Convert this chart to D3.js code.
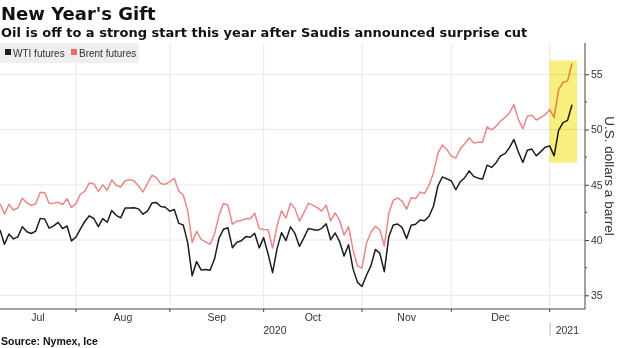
<!DOCTYPE html>
<html>
<head>
<meta charset="utf-8">
<script src="https://cdn.jsdelivr.net/npm/d3@7/dist/d3.min.js"></script>
<style>
  html, body { margin: 0; padding: 0; background: #fff; }
  svg { display: block; }
</style>
</head>
<body>
<div id="chart"></div>
<script>
// ---- DATA ----
const dates = [
  "2020-07-08","2020-07-09","2020-07-10","2020-07-13","2020-07-14","2020-07-15","2020-07-16","2020-07-17","2020-07-20","2020-07-21","2020-07-22","2020-07-23","2020-07-24","2020-07-27","2020-07-28","2020-07-29","2020-07-30","2020-07-31",
  "2020-08-03","2020-08-04","2020-08-05","2020-08-06","2020-08-07","2020-08-10","2020-08-11","2020-08-12","2020-08-13","2020-08-14","2020-08-17","2020-08-18","2020-08-19","2020-08-20","2020-08-21","2020-08-24","2020-08-25","2020-08-26","2020-08-27","2020-08-28","2020-08-31",
  "2020-09-01","2020-09-02","2020-09-03","2020-09-04","2020-09-08","2020-09-09","2020-09-10","2020-09-11","2020-09-14","2020-09-15","2020-09-16","2020-09-17","2020-09-18","2020-09-21","2020-09-22","2020-09-23","2020-09-24","2020-09-25","2020-09-28","2020-09-29","2020-09-30",
  "2020-10-01","2020-10-02","2020-10-05","2020-10-06","2020-10-07","2020-10-08","2020-10-09","2020-10-12","2020-10-13","2020-10-14","2020-10-15","2020-10-16","2020-10-19","2020-10-20","2020-10-21","2020-10-22","2020-10-23","2020-10-26","2020-10-27","2020-10-28","2020-10-29","2020-10-30",
  "2020-11-02","2020-11-03","2020-11-04","2020-11-05","2020-11-06","2020-11-09","2020-11-10","2020-11-11","2020-11-12","2020-11-13","2020-11-16","2020-11-17","2020-11-18","2020-11-19","2020-11-20","2020-11-23","2020-11-24","2020-11-25","2020-11-27","2020-11-30",
  "2020-12-01","2020-12-02","2020-12-03","2020-12-04","2020-12-07","2020-12-08","2020-12-09","2020-12-10","2020-12-11","2020-12-14","2020-12-15","2020-12-16","2020-12-17","2020-12-18","2020-12-21","2020-12-22","2020-12-23","2020-12-24","2020-12-28","2020-12-29","2020-12-30","2020-12-31",
  "2021-01-04","2021-01-05","2021-01-06","2021-01-07","2021-01-08"
];
const wti = [
  40.90,39.62,40.55,40.10,40.29,41.20,40.75,40.59,40.81,41.96,41.90,41.07,41.29,41.60,41.04,41.27,39.92,40.27,
  41.01,41.70,42.19,41.95,41.22,41.94,41.61,42.67,42.24,42.01,42.89,42.89,42.93,42.82,42.34,42.62,43.35,43.39,43.04,42.97,42.61,
  42.76,41.51,41.37,39.77,36.76,38.05,37.30,37.33,37.26,38.28,40.16,40.97,41.11,39.31,39.80,39.93,40.31,40.25,40.60,39.29,40.22,
  38.72,37.05,39.22,40.67,39.95,41.19,40.60,39.43,40.20,41.04,40.96,40.88,41.06,41.46,40.03,40.64,39.85,38.56,39.57,37.39,36.17,35.79,
  36.81,37.66,39.15,38.79,37.14,40.29,41.36,41.45,41.12,40.13,41.34,41.43,41.82,41.74,42.15,43.06,44.91,45.71,45.53,45.34,
  44.55,45.28,45.64,46.26,45.76,45.60,45.52,46.78,46.57,46.99,47.62,47.82,48.36,49.10,47.97,47.02,48.12,48.23,47.62,48.00,48.40,48.52,
  47.62,49.93,50.63,50.83,52.24
];
const brent = [
  43.29,42.35,43.24,42.72,42.90,43.79,43.37,43.14,43.28,44.32,44.29,43.31,43.34,43.41,43.22,43.75,42.94,43.30,
  44.15,44.43,45.17,45.09,44.40,44.99,44.50,45.43,44.96,44.80,45.37,45.46,45.37,44.90,44.35,45.13,45.86,45.64,45.09,45.05,45.28,
  45.58,44.43,44.07,42.66,39.78,40.79,40.06,39.83,39.61,40.53,42.22,43.30,43.15,41.44,41.72,41.77,41.94,41.92,42.43,41.03,40.95,
  40.93,39.27,41.29,42.65,41.99,43.34,42.85,41.72,42.45,43.32,43.16,42.93,42.62,43.16,41.73,42.46,41.77,40.46,41.20,39.12,37.65,37.46,
  39.71,40.71,41.23,40.93,39.45,42.40,43.61,43.80,43.53,42.78,43.82,43.75,44.34,44.20,44.96,46.06,47.86,48.61,48.18,47.59,
  47.42,48.25,48.71,49.25,48.79,48.84,48.86,50.25,49.97,50.29,50.76,51.08,51.50,52.26,50.91,50.08,51.20,51.29,50.86,51.09,51.34,51.80,
  51.09,53.60,54.30,54.38,55.99
];
const seriesNames = ["WTI futures", "Brent futures"];
const yTicks = [35, 40, 45, 50, 55];
const yMinorTicks = [37.5, 42.5, 47.5, 52.5];
const monthLabels = ["Jul", "Aug", "Sep", "Oct", "Nov", "Dec"];
const yearLabels = ["2020", "2021"];
const highlightStart = "2020-12-31";
const highlightRange = [47.0, 56.25];

// ---- LAYOUT ----
const W = 620, H = 348;
const plotL = 0, plotR = 585, plotT = 43, plotB = 309;
const colWTI = "#1c1c1c", colBrent = "#ea8787", colBrentKey = "#f06a6a";

const svg = d3.select("#chart").append("svg").attr("width", W).attr("height", H);

const x = d3.scaleLinear().domain([0, dates.length - 1]).range([0, 572]);
const y = d3.scaleLinear().domain([33.76, 57.83]).range([plotB, plotT]);

// month boundaries: last trading day of each month
const boundaries = [];
for (let i = 0; i < dates.length - 1; i++) {
  if (dates[i].slice(0, 7) !== dates[i + 1].slice(0, 7)) boundaries.push(i);
}
const bx = boundaries.map(i => x(i));

// gridlines
const grid = svg.append("g");
grid.selectAll("line.h").data(yTicks).join("line")
  .attr("x1", plotL).attr("x2", plotR)
  .attr("y1", d => y(d)).attr("y2", d => y(d))
  .attr("stroke", "#e9e9e9").attr("stroke-width", 1);
grid.selectAll("line.v").data(bx).join("line")
  .attr("x1", d => d).attr("x2", d => d)
  .attr("y1", plotT).attr("y2", plotB)
  .attr("stroke", "#e9e9e9").attr("stroke-width", 1);

// lines
const lineGen = vals => d3.line().x((d, i) => x(i)).y(d => y(d))(vals);
svg.append("path").attr("d", lineGen(brent)).attr("fill", "none")
  .attr("stroke", colBrent).attr("stroke-width", 1.5).attr("stroke-linejoin", "round");
svg.append("path").attr("d", lineGen(wti)).attr("fill", "none")
  .attr("stroke", colWTI).attr("stroke-width", 1.5).attr("stroke-linejoin", "round");

// highlight box
const hi = dates.indexOf(highlightStart);
svg.append("rect")
  .attr("x", x(hi)).attr("width", x(dates.length - 1) + 5 - x(hi))
  .attr("y", y(highlightRange[1])).attr("height", y(highlightRange[0]) - y(highlightRange[1]))
  .attr("fill", "#f9ef7e")
  .style("mix-blend-mode", "multiply");

// right y axis
const yAxis = svg.append("g").attr("transform", `translate(${plotR},0)`)
  .call(d3.axisRight(y).tickValues(yTicks).tickSize(4).tickPadding(2).tickFormat(d3.format("d")));
yAxis.select(".domain").remove();
yAxis.selectAll(".tick line").attr("stroke", "#444");
yAxis.selectAll(".tick text").attr("fill", "#333").style("font", "10.5px 'Liberation Sans', Arial, sans-serif");
svg.append("g").selectAll("line").data(yMinorTicks).join("line")
  .attr("x1", plotR).attr("x2", plotR + 2).attr("y1", d => y(d)).attr("y2", d => y(d))
  .attr("stroke", "#444");
svg.append("line").attr("x1", plotR).attr("x2", plotR).attr("y1", plotT).attr("y2", plotB)
  .attr("stroke", "#444").attr("stroke-width", 1);

svg.append("text")
  .attr("transform", `translate(605, ${(plotT + plotB) / 2}) rotate(90)`)
  .attr("text-anchor", "middle")
  .attr("fill", "#333")
  .style("font", "13.5px 'Liberation Sans', Arial, sans-serif")
  .text("U.S. dollars a barrel");

// bottom axis
svg.append("line").attr("x1", plotL).attr("x2", plotR).attr("y1", plotB).attr("y2", plotB)
  .attr("stroke", "#444");
svg.append("g").selectAll("line").data(bx).join("line")
  .attr("x1", d => d).attr("x2", d => d).attr("y1", plotB).attr("y2", plotB + 3)
  .attr("stroke", "#444");

const edges = [plotL].concat(bx);
svg.append("g").selectAll("text").data(monthLabels).join("text")
  .attr("x", (d, i) => (edges[i] + edges[i + 1]) / 2)
  .attr("y", 321)
  .attr("text-anchor", "middle").attr("fill", "#333")
  .style("font", "10.5px 'Liberation Sans', Arial, sans-serif")
  .text(d => d);

const yearEdges = [plotL, bx[bx.length - 1], plotR];
svg.append("g").selectAll("text").data(yearLabels).join("text")
  .attr("x", (d, i) => (yearEdges[i] + yearEdges[i + 1]) / 2)
  .attr("y", 334)
  .attr("text-anchor", "middle").attr("fill", "#333")
  .style("font", "10.5px 'Liberation Sans', Arial, sans-serif")
  .text(d => d);
svg.append("line").attr("x1", bx[bx.length - 1] + 0.5).attr("x2", bx[bx.length - 1] + 0.5)
  .attr("y1", 322).attr("y2", 336).attr("stroke", "#bbb");

// titles
svg.append("text").attr("x", 1).attr("y", 20)
  .attr("fill", "#111")
  .style("font", "bold 18px 'DejaVu Sans', sans-serif")
  .text("New Year's Gift");
svg.append("text").attr("x", 1).attr("y", 37)
  .attr("fill", "#111")
  .style("font", "bold 13px 'DejaVu Sans', sans-serif")
  .text("Oil is off to a strong start this year after Saudis announced surprise cut");

// legend
const lg = svg.append("g");
lg.append("rect").attr("x", 0).attr("y", 43).attr("width", 139).attr("height", 20).attr("fill", "#efefef");
const keyCols = [colWTI, colBrentKey];
const keyX = [5, 71];
lg.selectAll("rect.k").data(seriesNames).join("rect")
  .attr("x", (d, i) => keyX[i]).attr("y", 49).attr("width", 6).attr("height", 6)
  .attr("fill", (d, i) => keyCols[i]);
lg.selectAll("text").data(seriesNames).join("text")
  .attr("x", (d, i) => keyX[i] + 8).attr("y", 56.5)
  .attr("fill", "#333")
  .style("font", "10px 'Liberation Sans', Arial, sans-serif")
  .text(d => d);

// source
svg.append("text").attr("x", 1).attr("y", 345)
  .attr("fill", "#111")
  .style("font", "bold 10.5px 'Liberation Sans', Arial, sans-serif")
  .text("Source: Nymex, Ice");
</script>
</body>
</html>
